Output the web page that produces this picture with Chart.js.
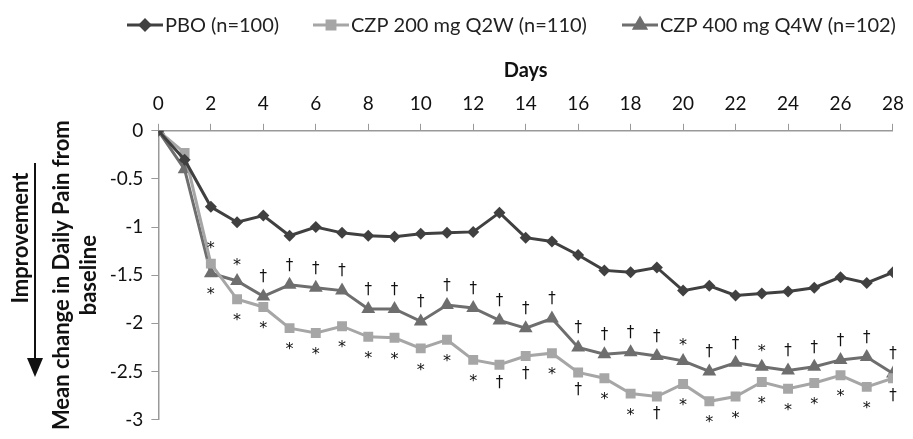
<!DOCTYPE html>
<html>
<head>
<meta charset="utf-8">
<script src="https://cdn.jsdelivr.net/npm/chart.js@4/dist/chart.umd.min.js"></script>
<style>
  html, body { margin: 0; padding: 0; background: #fff; }
  #wrap { width: 913px; height: 439px; }
</style>
</head>
<body>
<div id="wrap"><canvas id="chart"></canvas></div>
<script>
/* ── Data ── */
const days = [0,1,2,3,4,5,6,7,8,9,10,11,12,13,14,15,16,17,18,19,20,21,22,23,24,25,26,27,28];
const pbo    = [0,-0.30,-0.79,-0.95,-0.88,-1.09,-1.00,-1.06,-1.09,-1.10,-1.07,-1.06,-1.05,-0.85,-1.11,-1.15,-1.29,-1.45,-1.47,-1.42,-1.66,-1.61,-1.71,-1.69,-1.67,-1.63,-1.52,-1.58,-1.47];
const czp200 = [0,-0.23,-1.38,-1.75,-1.83,-2.05,-2.10,-2.03,-2.14,-2.15,-2.26,-2.17,-2.38,-2.43,-2.34,-2.31,-2.51,-2.57,-2.73,-2.76,-2.63,-2.81,-2.76,-2.61,-2.68,-2.62,-2.54,-2.66,-2.57];
const czp400 = [0,-0.40,-1.48,-1.56,-1.72,-1.60,-1.63,-1.66,-1.85,-1.85,-1.98,-1.81,-1.84,-1.97,-2.05,-1.95,-2.25,-2.32,-2.30,-2.34,-2.39,-2.50,-2.41,-2.45,-2.49,-2.45,-2.38,-2.35,-2.52];
// significance marks: above the upper active-arm line / below the lower one
const sigUpper = ['','','*','*','†','†','†','†','†','†','†','†','†','†','†','†','†','†','†','†','*','†','†','*','†','†','†','†','†'];
const sigLower = ['','','*','*','*','*','*','*','*','*','*','*','*','†','†','*','†','*','*','†','*','*','*','*','*','*','*','*','†'];
const seriesNames = ['PBO (n=100)', 'CZP 200 mg Q2W (n=110)', 'CZP 400 mg Q4W (n=102)'];
const yTicks = [0,-0.5,-1,-1.5,-2,-2.5,-3];

const FONT = 'Lato';
const colPbo = '#404040', col200 = '#a6a6a6', col400 = '#6e6e6e';
const pts = arr => days.map((d, i) => ({ x: d, y: arr[i] }));

/* ── Custom legend (line + marker) ── */
const legendPlugin = {
  id: 'lineLegend',
  afterDraw(chart) {
    const ctx = chart.ctx;
    const items = [
      { x: 127, ds: 0 },
      { x: 313, ds: 1 },
      { x: 622, ds: 2 },
    ];
    const y = 25;
    ctx.save();
    ctx.font = `20px ${FONT}`;
    ctx.textBaseline = 'middle';
    items.forEach(it => {
      const ds = chart.data.datasets[it.ds];
      ctx.strokeStyle = ds.borderColor;
      ctx.fillStyle = ds.borderColor;
      ctx.lineWidth = 3;
      ctx.beginPath(); ctx.moveTo(it.x, y); ctx.lineTo(it.x + 36, y); ctx.stroke();
      Chart.helpers.drawPoint(ctx, {
        pointStyle: ds.pointStyle, radius: ds.pointRadius * 0.8, borderWidth: 1
      }, it.x + 18, y);
      ctx.fillStyle = '#222';
      ctx.fillText(seriesNames[it.ds], it.x + 38, y + 1);
    });
    ctx.restore();
  }
};

/* ── Improvement arrow + significance marks ── */
const extrasPlugin = {
  id: 'extras',
  afterDatasetsDraw(chart) {
    const ctx = chart.ctx;
    const xs = chart.scales.x, ys = chart.scales.y;
    ctx.save();
    ctx.fillStyle = '#111';
    ctx.textAlign = 'center';
    ctx.textBaseline = 'middle';
    days.forEach((d, i) => {
      const px = xs.getPixelForValue(d);
      const hi = Math.max(czp200[i], czp400[i]);
      const lo = Math.min(czp200[i], czp400[i]);
      [[sigUpper[i], ys.getPixelForValue(hi) - 19], [sigLower[i], ys.getPixelForValue(lo) + 18]].forEach(([s, py]) => {
        if (!s) return;
        ctx.font = s === '*' ? `16px "DejaVu Sans"` : `15px "DejaVu Sans"`;
        ctx.fillText(s, px, py + (s === '*' ? 4 : 0));
      });
    });
    ctx.restore();
  },
  afterDraw(chart) {
    const ctx = chart.ctx;
    ctx.save();
    // arrow
    ctx.strokeStyle = '#111'; ctx.fillStyle = '#111'; ctx.lineWidth = 2;
    ctx.beginPath(); ctx.moveTo(35, 163); ctx.lineTo(35, 362); ctx.stroke();
    ctx.beginPath(); ctx.moveTo(27, 358); ctx.lineTo(43, 358); ctx.lineTo(35, 377); ctx.closePath(); ctx.fill();
    // label
    ctx.translate(21, 238);
    ctx.rotate(-Math.PI / 2);
    ctx.font = `bold 22px ${FONT}`;
    ctx.textAlign = 'center'; ctx.textBaseline = 'middle';
    ctx.fillText('Improvement', 0, 0);
    ctx.restore();
  }
};

const ds = (label, arr, color, style, r) => ({
  label, data: pts(arr), borderColor: color, backgroundColor: color,
  pointStyle: style, pointRadius: r, pointHoverRadius: r, pointBorderWidth: 0,
  borderWidth: 3, tension: 0, fill: false,
});

new Chart(document.getElementById('chart'), {
  type: 'line',
  data: {
    datasets: [
      ds(seriesNames[0], pbo, colPbo, 'rectRot', 6),
      ds(seriesNames[1], czp200, col200, 'rect', 7),
      ds(seriesNames[2], czp400, col400, 'triangle', 8),
    ]
  },
  options: {
    responsive: true, maintainAspectRatio: false, animation: false,
    layout: { padding: { top: 59, left: 49, right: 13, bottom: 12 } },
    plugins: { legend: { display: false }, tooltip: { enabled: false } },
    scales: {
      x: {
        type: 'linear', position: 'top', min: 0, max: 28,
        ticks: { stepSize: 2, color: '#111', font: { family: FONT, size: 19 }, padding: 9 },
        grid: { drawOnChartArea: false, tickLength: 7, color: '#999' },
        border: { color: '#999', width: 1.5 },
        title: { display: true, text: 'Days', color: '#111', font: { family: FONT, size: 20, weight: 'bold' }, padding: { top: 0, bottom: 0 } }
      },
      y: {
        type: 'linear', min: -3, max: 0,
        afterBuildTicks: axis => { axis.ticks = yTicks.map(v => ({ value: v })); },
        ticks: { color: '#111', font: { family: FONT, size: 19 }, padding: 8, callback: v => String(v) },
        grid: { drawOnChartArea: false, tickLength: 7, color: '#999' },
        border: { color: '#999', width: 1.5 },
        title: { display: true, text: ['Mean change in Daily Pain from', 'baseline'], color: '#111', font: { family: FONT, size: 22, weight: 'bold' }, padding: { top: 0, bottom: 0 } }
      }
    }
  },
  plugins: [legendPlugin, extrasPlugin]
});
</script>
</body>
</html>
